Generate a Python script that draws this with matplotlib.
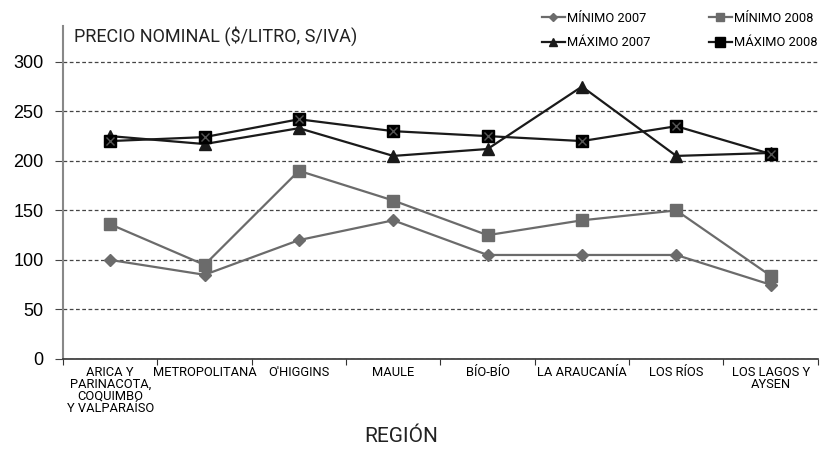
import matplotlib
matplotlib.use("Agg")
import matplotlib.pyplot as plt

plt.rcParams['font.family'] = ['Roboto', 'DejaVu Sans']

categories = ["ARICA Y\nPARINACOTA,\nCOQUIMBO\nY VALPARAÍSO", "METROPOLITANA", "O'HIGGINS", "MAULE",
              "BÍO-BÍO", "LA ARAUCANÍA", "LOS RÍOS", "LOS LAGOS Y\nAYSEN"]
min_2007 = [100, 85, 120, 140, 105, 105, 105, 75]
min_2008 = [136, 95, 190, 160, 125, 140, 150, 84]
max_2007 = [225, 217, 233, 205, 212, 275, 205, 208]
max_2008 = [220, 224, 242, 230, 225, 220, 235, 207]
yticks = [0, 50, 100, 150, 200, 250, 300]

fig = plt.figure(figsize=(8.24, 4.51), dpi=100)
ax = fig.add_axes([0.0765, 0.204, 0.916, 0.738])

x = list(range(len(categories)))
gray = '#6b6b6b'
dark = '#1a1a1a'
l1, = ax.plot(x, min_2007, color=gray, lw=1.6, marker='D', ms=6, mfc=gray, mec=gray, label='MÍNIMO 2007')
l2, = ax.plot(x, min_2008, color=gray, lw=1.6, marker='s', ms=8, mfc=gray, mec=gray, label='MÍNIMO 2008')
l3, = ax.plot(x, max_2007, color=dark, lw=1.6, marker='^', ms=8, mfc=dark, mec=dark, label='MÁXIMO 2007')
l4, = ax.plot(x, max_2008, color=dark, lw=1.6, marker='s', ms=9, mfc='black', mec='black', label='MÁXIMO 2008')
ax.plot(x, max_2008, ls='none', marker='x', ms=6, mec='#555555', mew=1.0)

ax.set_xlim(-0.5, len(categories) - 0.5)
ax.set_ylim(0, 336)
ax.set_yticks(yticks)
ax.set_yticklabels([str(v) for v in yticks], fontsize=13, family=['Liberation Sans', 'DejaVu Sans'])
ax.yaxis.grid(True, ls=(0, (3, 2)), color='#444444', lw=0.9)
ax.set_axisbelow(True)
ax.tick_params(axis='y', length=6, color='#444444', pad=8)

ax.set_xticks([i + 0.5 for i in range(-1, len(categories))], minor=False)
ax.set_xticklabels([])
ax.set_xticks(x, minor=True)
ax.set_xticklabels(categories, minor=True, fontsize=9.3, linespacing=0.9, va='top')
ax.tick_params(axis='x', which='major', length=4, direction='out', color='#333333')
ax.tick_params(axis='x', which='minor', length=0, pad=5)

for s in ['top', 'right']:
    ax.spines[s].set_visible(False)
ax.spines['left'].set_color('#888888')
ax.spines['left'].set_linewidth(1.5)
ax.spines['bottom'].set_color('#333333')
ax.spines['bottom'].set_linewidth(1.2)

ax.text(0.015, 1.0, 'PRECIO NOMINAL ($/LITRO, S/IVA)', transform=ax.transAxes,
        fontsize=13, va='top', ha='left', color='#222222')
fig.text(0.487, 0.012, 'REGIÓN', fontsize=15, ha='center', va='bottom', color='#222222')

leg = fig.legend(handles=[l1, l3, l2, l4], ncol=2, loc='upper right',
                 bbox_to_anchor=(1.006, 1.0), frameon=False, fontsize=9.3,
                 handlelength=1.8, handletextpad=0.15, columnspacing=4.5,
                 labelspacing=0.9, markerscale=0.75)

fig.savefig('out.png', dpi=100)
